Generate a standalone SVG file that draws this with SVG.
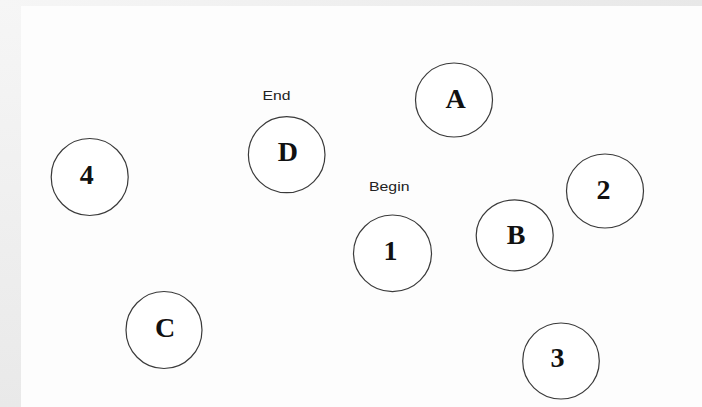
<svg xmlns="http://www.w3.org/2000/svg" width="702" height="407" viewBox="0 0 702 407">
  <defs>
    <linearGradient id="bgL" x1="0" y1="0" x2="0" y2="1">
      <stop offset="0" stop-color="#f6f6f6"/>
      <stop offset="1" stop-color="#e9e9e9"/>
    </linearGradient>
    <linearGradient id="bgT" x1="0" y1="0" x2="1" y2="0">
      <stop offset="0" stop-color="#f6f6f6"/>
      <stop offset="1" stop-color="#e8e8e8"/>
    </linearGradient>
  </defs>
  <style>
    .node ellipse { fill: #ffffff; stroke: #3a3a3a; stroke-width: 1.2; }
    .lbl { font-family: "Liberation Serif", "Times New Roman", serif; font-weight: bold; font-size: 28px; fill: #111; text-anchor: middle; }
    .note { font-family: "Liberation Sans", Arial, sans-serif; font-size: 13.5px; fill: #222; }
  </style>
  <rect x="0" y="0" width="702" height="407" fill="url(#bgL)"/>
  <rect x="0" y="0" width="702" height="6" fill="url(#bgT)"/>
  <rect x="21" y="6" width="681" height="401" fill="#fdfdfd"/>

  <g id="connectors"></g>

  <g id="node-A" class="node">
    <ellipse cx="454" cy="100" rx="38.5" ry="37"/>
    <text class="lbl" x="455.5" y="108">A</text>
  </g>
  <g id="node-D" class="node">
    <ellipse cx="286.7" cy="154.7" rx="38.3" ry="38"/>
    <text class="lbl" x="287.8" y="160.5">D</text>
  </g>
  <g id="node-4" class="node">
    <ellipse cx="89.7" cy="177" rx="38.5" ry="38.5"/>
    <text class="lbl" x="86.7" y="183.5">4</text>
  </g>
  <g id="node-B" class="node">
    <ellipse cx="514.7" cy="235.3" rx="38.5" ry="35.5"/>
    <text class="lbl" x="516" y="244">B</text>
  </g>
  <g id="node-2" class="node">
    <ellipse cx="605" cy="191" rx="38.5" ry="37"/>
    <text class="lbl" x="603.5" y="198.5">2</text>
  </g>
  <g id="node-C" class="node">
    <ellipse cx="164" cy="330" rx="38" ry="38.5"/>
    <text class="lbl" x="165" y="336.5">C</text>
  </g>
  <g id="node-3" class="node">
    <ellipse cx="561" cy="361" rx="38.3" ry="38"/>
    <text class="lbl" x="557.5" y="366.5">3</text>
  </g>
  <g id="node-1" class="node">
    <ellipse cx="392.5" cy="253.3" rx="39" ry="38.3"/>
    <text class="lbl" x="390.5" y="259.5">1</text>
  </g>

  <g id="label-End">
    <text class="note" x="262.5" y="100" textLength="28" lengthAdjust="spacingAndGlyphs">End</text>
  </g>
  <g id="label-Begin">
    <text class="note" x="369" y="191" textLength="40.5" lengthAdjust="spacingAndGlyphs">Begin</text>
  </g>
</svg>
